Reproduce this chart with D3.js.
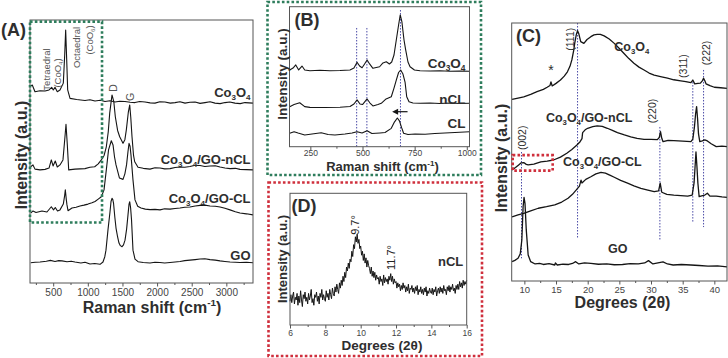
<!DOCTYPE html>
<html>
<head>
<meta charset="utf-8">
<script src="https://cdn.jsdelivr.net/npm/d3@7"></script>
<style>
  body { margin: 0; background: #fff; }
  text { font-family: "Liberation Sans", Arial, Helvetica, sans-serif; }
</style>
</head>
<body>
<svg id="fig" width="728" height="358"></svg>
<script>
/* ---------- data: (A) Raman, full range, stacked intensity (a.u.) ---------- */
const ramanCo3O4 = [[175,74.9],[198,75.3],[237,72.7],[310,73.1],[382,73.0],[440,73.4],[478,74.4],[501,73.4],[526,74.4],[559,72.7],[598,73.4],[646,76.0],[666,86.7],[680,96.2],[695,84.8],[709,73.4],[743,70.2],[839,69.8],[959,69.4],[1030,69.7],[1104,69.2],[1180,69.5],[1248,69.0],[1320,69.3],[1392,68.8],[1460,69.1],[1537,69.0],[1610,68.7],[1681,68.6],[1750,69.0],[1826,68.8],[1900,68.5],[1970,68.4],[2040,68.9],[2114,68.8],[2190,68.4],[2259,68.6],[2330,68.9],[2403,68.4],[2475,68.7],[2548,68.8],[2620,68.3],[2692,68.6],[2765,68.9],[2836,68.4],[2910,68.2],[2981,68.6],[3050,68.8],[3125,68.4],[3200,68.2],[3270,68.6],[3385,68.4]];
const ramanNCL = [[175,44.2],[208,44.9],[237,43.3],[310,43.0],[382,43.2],[440,43.7],[473,46.8],[498,44.5],[530,46.4],[559,44.1],[598,44.9],[641,46.8],[666,54.4],[685,60.3],[704,52.5],[724,43.0],[815,43.3],[959,43.5],[1030,44.0],[1099,44.2],[1150,45.3],[1195,46.8],[1235,48.5],[1267,51.8],[1295,57.5],[1316,64.6],[1349,71.5],[1375,69.0],[1397,63.2],[1430,58.0],[1460,55.6],[1508,53.1],[1535,54.5],[1556,58.2],[1585,65.0],[1605,67.7],[1620,63.0],[1638,55.6],[1660,48.5],[1677,46.1],[1725,44.0],[1800,43.6],[1898,43.3],[1970,43.8],[2042,43.7],[2110,43.4],[2187,43.5],[2260,43.9],[2331,44.1],[2400,44.0],[2475,44.3],[2550,44.8],[2620,44.7],[2690,44.3],[2764,44.5],[2840,44.6],[2909,44.1],[2980,43.7],[3053,43.5],[3130,43.6],[3197,43.2],[3290,43.1],[3385,43.0]];
const ramanCL = [[175,26.6],[208,27.4],[252,26.8],[338,27.4],[410,27.0],[473,29.0],[505,27.8],[530,28.7],[562,27.4],[598,27.8],[646,30.0],[664,33.0],[675,35.4],[690,31.5],[699,29.7],[714,27.5],[771,28.5],[830,28.8],[887,29.3],[945,29.6],[1003,30.0],[1060,30.5],[1104,31.0],[1150,31.9],[1195,32.8],[1234,35.4],[1267,43.0],[1299,50.6],[1339,54.1],[1364,52.5],[1385,48.0],[1407,44.9],[1457,39.9],[1508,39.4],[1535,41.5],[1559,44.9],[1580,50.0],[1595,53.1],[1610,52.0],[1623,48.7],[1652,39.2],[1681,31.6],[1720,29.2],[1768,28.5],[1830,28.1],[1898,27.9],[1970,28.0],[2042,27.8],[2110,28.2],[2187,28.1],[2260,28.3],[2331,28.5],[2400,28.8],[2475,28.9],[2550,29.3],[2620,29.5],[2690,29.6],[2764,29.3],[2840,29.2],[2909,28.9],[2980,28.4],[3053,27.8],[3130,27.1],[3197,26.6],[3290,26.3],[3385,25.9]];
const ramanGO = [[175,7.7],[240,7.9],[310,8.0],[400,8.3],[460,8.6],[526,8.2],[580,8.5],[627,8.4],[700,8.1],[760,8.3],[815,8.0],[900,7.6],[960,7.9],[1031,7.2],[1100,7.4],[1176,7.1],[1219,8.0],[1245,10.0],[1262,12.5],[1291,20.2],[1320,27.0],[1335,31.0],[1349,32.2],[1360,31.8],[1371,30.4],[1390,25.0],[1407,20.9],[1430,17.5],[1450,15.2],[1470,14.2],[1494,13.8],[1515,14.5],[1537,16.3],[1560,20.5],[1580,25.9],[1595,30.0],[1605,30.9],[1618,28.5],[1631,24.0],[1652,12.5],[1681,9.1],[1725,8.1],[1800,7.8],[1898,7.6],[1970,7.9],[2042,7.8],[2110,7.6],[2187,7.8],[2260,8.0],[2331,8.2],[2400,8.5],[2475,8.7],[2550,8.9],[2620,9.1],[2690,9.2],[2764,8.9],[2840,8.7],[2909,8.4],[2980,8.2],[3053,8.0],[3130,7.9],[3197,7.8],[3290,7.9],[3385,7.7]];
const ramanNames = ['Co_3O_4', 'Co_3O_4/GO-nCL', 'Co_3O_4/GO-CL', 'GO'];
const ramanTicks = [500, 1000, 1500, 2000, 2500, 3000];

/* ---------- data: (B) Raman, low range ---------- */
const zoomCo3O4 = [[151,54.8],[167,56.2],[180,58.4],[194,54.8],[210,57.6],[223,54.8],[248,54.3],[296,54.6],[344,54.3],[392,54.4],[440,54.8],[459,56.2],[474,60.3],[486,57.6],[498,56.4],[510,59.1],[522,61.9],[534,59.1],[550,56.0],[582,57.1],[598,59.8],[614,60.7],[629,59.1],[640,60.5],[651,65.5],[662,76.2],[673,86.9],[681,94.1],[689,89.1],[699,76.2],[707,69.1],[718,60.5],[728,57.1],[749,54.8],[776,54.3],[824,54.1],[871,54.2],[919,53.9],[967,54.1],[1013,53.9]];
const zoomNCL = [[151,28.6],[172,30.1],[199,31.4],[223,28.6],[248,28.1],[320,28.0],[392,28.2],[440,28.7],[459,30.5],[474,33.4],[488,30.5],[500,30.1],[522,34.1],[536,31.2],[550,29.1],[574,30.1],[590,31.0],[613,34.1],[638,35.7],[651,41.9],[662,47.6],[673,53.0],[683,54.8],[694,51.9],[704,46.2],[712,35.7],[723,32.1],[742,31.2],[776,31.0],[824,31.2],[871,30.9],[919,31.2],[967,30.9],[1013,31.0]];
const zoomCL = [[151,9.6],[172,10.7],[191,9.8],[223,8.4],[258,9.1],[302,10.0],[335,8.7],[368,8.4],[416,9.1],[450,9.8],[474,10.7],[498,9.8],[522,11.4],[545,9.4],[584,9.8],[608,10.1],[638,13.1],[653,17.6],[667,20.5],[677,18.4],[688,13.4],[697,9.6],[718,8.7],[752,9.1],[800,8.9],[847,9.4],[895,9.8],[943,10.1],[1013,10.7]];
const zoomNames = ['Co_3O_4', 'nCL', 'CL'];
const zoomTicks = [250, 500, 750, 1000];
const zoomGuides = [472, 521, 682];

/* ---------- data: (C) XRD ---------- */
const xrdCo3O4 = [[8.06,70.4],[9.0,70.9],[9.9,71.4],[11.0,72.3],[12.0,73.4],[13.0,74.3],[13.6,75.1],[14.05,75.8],[14.2,77.2],[14.4,75.6],[15.0,76.6],[15.7,77.9],[16.3,79.4],[16.8,81.1],[17.2,83.2],[17.5,85.7],[17.8,89.5],[17.95,92.1],[18.2,95.5],[18.4,97.0],[18.6,95.8],[18.9,92.8],[19.4,92.1],[19.9,93.6],[20.5,94.7],[21.0,95.4],[21.5,95.6],[22.0,95.6],[22.6,95.0],[23.4,93.8],[24.2,92.1],[25.0,90.1],[25.7,88.3],[26.5,86.2],[27.3,84.4],[28.1,82.9],[28.9,81.8],[29.7,80.6],[30.5,79.8],[31.5,79.2],[32.6,78.6],[33.6,78.0],[34.7,77.6],[35.5,77.3],[36.3,76.9],[36.6,77.9],[36.9,76.4],[37.4,76.6],[37.8,76.7],[38.1,77.6],[38.3,78.6],[38.5,77.6],[38.7,76.4],[39.3,75.7],[40.0,75.1],[41.0,74.9],[42.0,74.7]];
const xrdNCL = [[8.06,43.0],[8.6,44.0],[9.1,45.0],[9.5,45.8],[9.9,45.9],[10.3,45.2],[10.6,45.0],[11.5,45.3],[12.6,46.2],[13.6,46.5],[14.6,46.9],[15.7,48.0],[16.7,49.5],[17.5,51.0],[18.3,52.7],[18.8,54.0],[19.1,55.2],[19.2,57.5],[19.6,58.6],[20.0,59.2],[20.8,59.8],[21.5,60.1],[22.3,59.9],[23.1,59.2],[23.9,58.4],[24.7,57.5],[25.8,56.6],[26.8,55.9],[27.8,55.3],[28.9,54.9],[30.0,54.9],[31.0,54.8],[31.3,55.6],[31.5,57.9],[31.7,55.3],[31.9,54.0],[32.7,54.5],[33.6,54.4],[35.0,54.2],[36.3,54.0],[36.6,55.0],[36.85,59.5],[37.05,65.0],[37.2,67.6],[37.35,63.0],[37.5,57.0],[37.7,54.0],[38.1,54.3],[38.5,54.7],[38.9,54.3],[39.5,53.2],[40.3,52.1],[41.2,52.3],[42.0,52.1]];
const xrdCL = [[8.06,24.9],[9.0,25.6],[9.9,26.2],[11.0,27.2],[12.2,28.2],[13.5,28.8],[14.8,29.5],[15.9,30.6],[16.9,32.1],[17.6,33.6],[18.2,35.3],[18.7,36.8],[18.95,39.1],[19.1,38.0],[19.7,39.4],[20.5,40.4],[21.3,41.5],[22.1,42.1],[22.8,41.8],[23.4,41.1],[24.2,40.2],[25.2,39.0],[26.3,37.9],[27.3,36.9],[28.4,35.9],[29.5,35.2],[30.5,34.6],[31.2,34.9],[31.45,37.9],[31.7,34.4],[32.5,33.6],[33.6,33.3],[34.7,33.1],[35.8,32.9],[36.5,33.3],[36.8,38.0],[36.95,44.0],[37.1,50.0],[37.25,44.5],[37.4,38.0],[37.6,32.7],[38.0,33.0],[38.5,33.3],[38.9,34.0],[39.3,32.9],[40.3,32.9],[41.2,32.6],[42.0,32.4]];
const xrdGO = [[8.06,7.5],[8.5,8.0],[9.0,8.8],[9.35,10.5],[9.6,15.9],[9.8,28.8],[9.95,32.4],[10.1,30.1],[10.3,19.8],[10.6,10.1],[11.0,7.5],[11.7,6.6],[12.4,6.8],[13.0,6.4],[13.9,6.7],[14.8,6.2],[14.9,7.0],[15.2,6.2],[16.1,6.5],[17.0,6.4],[17.6,6.8],[18.1,7.5],[18.6,6.6],[19.5,7.0],[20.5,6.8],[21.7,6.5],[23.0,6.6],[24.2,6.3],[25.5,6.4],[26.7,6.7],[28.0,6.6],[29.0,7.0],[29.6,7.9],[30.3,6.6],[31.1,7.0],[31.9,7.4],[32.6,6.6],[33.5,6.2],[34.8,6.4],[36.3,6.2],[37.6,6.0],[39.0,5.8],[40.5,5.9],[42.0,5.5]];
const xrdNames = ['Co_3O_4', 'Co_3O_4/GO-nCL', 'Co_3O_4/GO-CL', 'GO'];
const xrdTicks = [10, 15, 20, 25, 30, 35, 40];
// reflection, 2theta, guide line from / to (a.u.)
const xrdPeaks = [['(002)', 9.55, 50, 8.8], ['(111)', 18.4, 100, 16.6], ['(220)', 31.4, 59.7, 15.9], ['(311)', 36.6, 77.1, 22.5], ['(222)', 38.3, 81.8, 20.9]];

/* ---------- data: (D) XRD of nCL, 6-16 deg, step 0.05 ---------- */
const lowStart = 6, lowStep = 0.05;
const lowNCL = [
  18,23,17,22,25,16,21,19,24,15,
  22,17,26,19,14,23,20,25,18,21,
  16,24,19,22,27,17,20,15,23,21,
  25,18,22,16,24,21,27,19,23,20,
  18,26,21,24,19,27,23,20,28,24,
  22,29,25,31,27,24,32,28,34,30,
  37,33,40,36,44,41,47,43,50,48,
  56,52,61,58,67,63,69,62,65,58,
  60,53,56,49,54,47,51,44,49,45,
  43,39,44,37,41,36,40,34,38,35,
  36,31,37,33,35,30,38,32,36,33,
  35,31,37,34,39,33,37,31,35,32,
  33,28,32,29,31,26,30,27,32,28,
  30,25,29,26,31,24,28,27,30,25,
  28,24,29,26,30,23,27,25,29,24,
  27,23,28,25,29,22,26,24,28,25,
  24,28,23,27,25,29,22,26,28,24,
  29,25,28,24,30,26,27,23,29,26,
  30,25,29,27,31,26,28,24,30,27,
  31,27,33,29,32,28,34,30,33,31,
  34];
const lowTicks = [6, 8, 10, 12, 14, 16];

/* ---------- helpers ---------- */
const svg = d3.select('#fig');
svg.append('rect').attr('width', 728).attr('height', 358).attr('fill', '#fff');

const INK = '#151515', TXT = '#2e2e2e', GUIDE = '#4a4aa6';
const GREEN = '#2e7d5c', RED = '#cf2f3c';

// "_x" / "_{..}" subscript, "^x" / "^{..}" superscript
function richText(sel, str, size, base) {
  const parts = str.split(/(_\{[^}]*\}|_.|\^\{[^}]*\}|\^.)/).filter(s => s.length);
  let cur = 0;
  parts.forEach(p => {
    let mode = 0, t = p;
    if (p[0] === '_' || p[0] === '^') {
      mode = p[0] === '_' ? 1 : -1;
      t = p.slice(1).replace(/[{}]/g, '');
    }
    const target = (base || 0) + (mode === 1 ? size * 0.25 : mode === -1 ? -size * 0.4 : 0);
    sel.append('tspan')
      .attr('dy', target - cur)
      .attr('font-size', mode ? size * 0.62 : size)
      .text(t);
    cur = target;
  });
}

function label(g, x, y, str, o = {}) {
  const size = o.size || 12;
  const t = g.append('text')
    .attr('font-size', size)
    .attr('font-weight', o.bold ? 'bold' : 'normal')
    .attr('fill', o.color || TXT)
    .attr('text-anchor', o.anchor || 'start');
  if (o.rotate) {
    t.attr('transform', `translate(${x},${y}) rotate(-90)`).attr('text-anchor', 'middle');
    richText(t, str, size, size * 0.35);
  } else {
    t.attr('x', x).attr('y', y);
    richText(t, str, size, 0);
  }
  return t;
}

function frame(g, x, y) {
  const [x0, x1] = x.range(), [y0, y1] = y.range();
  g.append('rect')
    .attr('x', x0).attr('y', y1).attr('width', x1 - x0).attr('height', y0 - y1)
    .attr('fill', 'none').attr('stroke', '#555').attr('stroke-width', 1);
}

function bottomAxis(g, x, yPos, major, minor, size, pad) {
  let minorG = g.append('g').attr('transform', `translate(0,${yPos})`)
    .call(d3.axisBottom(x).tickValues(minor).tickSize(2).tickFormat(''));
  let majorG = g.append('g').attr('transform', `translate(0,${yPos})`)
    .call(d3.axisBottom(x).tickValues(major).tickSize(3.5).tickPadding(pad).tickFormat(d3.format('d')));
  [minorG, majorG].forEach(a => {
    a.select('.domain').remove();
    a.attr('font-family', null).attr('font-size', size);
    a.selectAll('line').attr('stroke', '#555');
    a.selectAll('text').attr('fill', '#444');
  });
}

function traces(g, x, y, list, width) {
  const line = d3.line().x(d => x(d[0])).y(d => y(d[1]));
  list.forEach(data => {
    g.append('path').attr('d', line(data))
      .attr('fill', 'none').attr('stroke', INK)
      .attr('stroke-width', width).attr('stroke-linejoin', 'round');
  });
}

function guide(g, x, y, v, from, to) {
  g.append('line')
    .attr('x1', x(v)).attr('x2', x(v)).attr('y1', y(from)).attr('y2', y(to))
    .attr('stroke', GUIDE).attr('stroke-width', 1).attr('stroke-dasharray', '1.5,1.5');
}

function dottedBox(g, x0, y0, x1, y1, color) {
  g.append('rect')
    .attr('x', x0).attr('y', y0).attr('width', x1 - x0).attr('height', y1 - y0)
    .attr('fill', 'none').attr('stroke', color)
    .attr('stroke-width', 2.6).attr('stroke-dasharray', '2.6,2.2');
}

/* ---------- (A) ---------- */
let pA = svg.append('g').attr('id', 'panelA');
let xA = d3.scaleLinear().domain([165, 3385]).range([30, 253]);
let yA = d3.scaleLinear().domain([0, 100]).range([283, 20]);

traces(pA, xA, yA, [ramanCo3O4, ramanNCL, ramanCL, ramanGO], 1.1);
frame(pA, xA, yA);
bottomAxis(pA, xA, 283, ramanTicks, [250, 750, 1250, 1750, 2250, 2750, 3250], 10, 2);

const ramanLabelY = [70.8, 45.4, 30.5, 8.6];
ramanNames.forEach((n, i) => label(pA, xA(3350), yA(ramanLabelY[i]), n, {size: 13, bold: true, anchor: 'end'}));

label(pA, 46.5, 69.5, 'Tetraedral', {size: 9.5, rotate: true, color: '#555'});
label(pA, 57.2, 73, '(CoO_4)', {size: 9.5, rotate: true, color: '#555'});
label(pA, 77, 47.5, 'Octaedral', {size: 9.5, rotate: true, color: '#555'});
label(pA, 89.5, 40, '(CoO_6)', {size: 9.5, rotate: true, color: '#555'});
label(pA, xA(1375), 88, 'D', {size: 10.5, rotate: true, color: '#555'});
label(pA, xA(1610), 97, 'G', {size: 10.5, rotate: true, color: '#555'});

dottedBox(pA, xA(165), yA(99.4), xA(1205), yA(23), GREEN);

label(pA, 1, 36, '(A)', {size: 18, bold: true});
label(pA, 21, 155, 'Intensity (a.u.)', {size: 16, bold: true, rotate: true});
label(pA, 152, 312.5, 'Raman shift (cm^{-1})', {size: 16, bold: true, anchor: 'middle'});

/* ---------- (B) ---------- */
let pB = svg.append('g').attr('id', 'panelB');
let xB = d3.scaleLinear().domain([150, 1013]).range([289.5, 469.5]);
let yB = d3.scaleLinear().domain([0, 100]).range([146.7, 6.7]);

guide(pB, xB, yB, zoomGuides[0], 84.8, 0);
guide(pB, xB, yB, zoomGuides[1], 84.8, 0);
guide(pB, xB, yB, zoomGuides[2], 97.6, 0);
traces(pB, xB, yB, [zoomCo3O4, zoomNCL, zoomCL], 1.1);
frame(pB, xB, yB);
bottomAxis(pB, xB, 146.7, zoomTicks, [375, 625, 875], 8.5, 0);

const zoomLabelY = [56.4, 30.5, 13.4];
zoomNames.forEach((n, i) => label(pB, 465.5, yB(zoomLabelY[i]), n, {size: 13.5, bold: true, anchor: 'end'}));

// peak shift arrow
const arrowFrom = 716, arrowTo = 642, arrowAt = 25;
pB.append('line')
  .attr('x1', xB(arrowFrom)).attr('x2', xB(arrowTo) + 4)
  .attr('y1', yB(arrowAt)).attr('y2', yB(arrowAt))
  .attr('stroke', INK).attr('stroke-width', 1.2);
pB.append('path')
  .attr('d', `M${xB(arrowTo)},${yB(arrowAt)} l6,-3 l0,6 z`)
  .attr('fill', INK);

label(pB, 294.5, 26, '(B)', {size: 18, bold: true});
label(pB, 282, 74, 'Intensity (a.u.)', {size: 13.5, bold: true, rotate: true});
label(pB, 382.5, 171, 'Raman shift (cm^{-1})', {size: 13, bold: true, anchor: 'middle'});
dottedBox(pB, 267.5, 2, 481, 175, GREEN);

/* ---------- (C) ---------- */
let pC = svg.append('g').attr('id', 'panelC');
let xC = d3.scaleLinear().domain([8, 42]).range([511.7, 727]);
let yC = d3.scaleLinear().domain([0, 100]).range([281, 23]);

xrdPeaks.forEach(p => guide(pC, xC, yC, p[1], p[2], p[3]));
traces(pC, xC, yC, [xrdCo3O4, xrdNCL, xrdCL, xrdGO], 1.3);
frame(pC, xC, yC);
bottomAxis(pC, xC, 281, xrdTicks, [12.5, 17.5, 22.5, 27.5, 32.5, 37.5], 9.5, 2);

const peakLabelAt = [[9.75, 55.5], [17.2, 93.7], [30.25, 65.9], [35.05, 83.3], [38.7, 88.4]];
xrdPeaks.forEach((p, i) => label(pC, xC(peakLabelAt[i][0]), yC(peakLabelAt[i][1]), p[0], {size: 10.5, rotate: true}));
label(pC, xC(14.2), yC(79.8), '*', {size: 14, anchor: 'middle'});

const xrdLabelAt = [[24.2, 89.2], [13.4, 61.6], [16.1, 44.6], [23.2, 10.9]];
xrdNames.forEach((n, i) => label(pC, xC(xrdLabelAt[i][0]), yC(xrdLabelAt[i][1]), n, {size: 12.5, bold: true}));

dottedBox(pC, xC(8.16), yC(48.8), xC(14.47), yC(42.8), RED);

label(pC, 516, 42, '(C)', {size: 18, bold: true});
label(pC, 501.5, 158, 'Intensity (a.u.)', {size: 16, bold: true, rotate: true});
label(pC, 622.5, 308, 'Degrees (2θ)', {size: 16, bold: true, anchor: 'middle'});

/* ---------- (D) ---------- */
let pD = svg.append('g').attr('id', 'panelD');
let xD = d3.scaleLinear().domain([6, 16]).range([290, 466.7]);
let yD = d3.scaleLinear().domain([0, 100]).range([325, 193.3]);

const lowPoints = lowNCL.map((v, i) => [lowStart + i * lowStep, v]);
traces(pD, xD, yD, [lowPoints], 1.0);
frame(pD, xD, yD);
bottomAxis(pD, xD, 325, lowTicks, [7, 9, 11, 13, 15], 8.5, 1);

label(pD, xD(9.7), 225, '9.7°', {size: 11, rotate: true, color: '#222'});
label(pD, xD(11.7), 257.5, '11.7°', {size: 11, rotate: true, color: '#222'});
label(pD, 438, 266, 'nCL', {size: 13, bold: true});

label(pD, 291.5, 212, '(D)', {size: 18, bold: true});
label(pD, 282, 259, 'Intensity (a.u.)', {size: 13, bold: true, rotate: true});
label(pD, 382, 349.5, 'Degrees (2θ)', {size: 13.5, bold: true, anchor: 'middle'});
dottedBox(pD, 268.5, 182.5, 482, 356, RED);
</script>
</body>
</html>
